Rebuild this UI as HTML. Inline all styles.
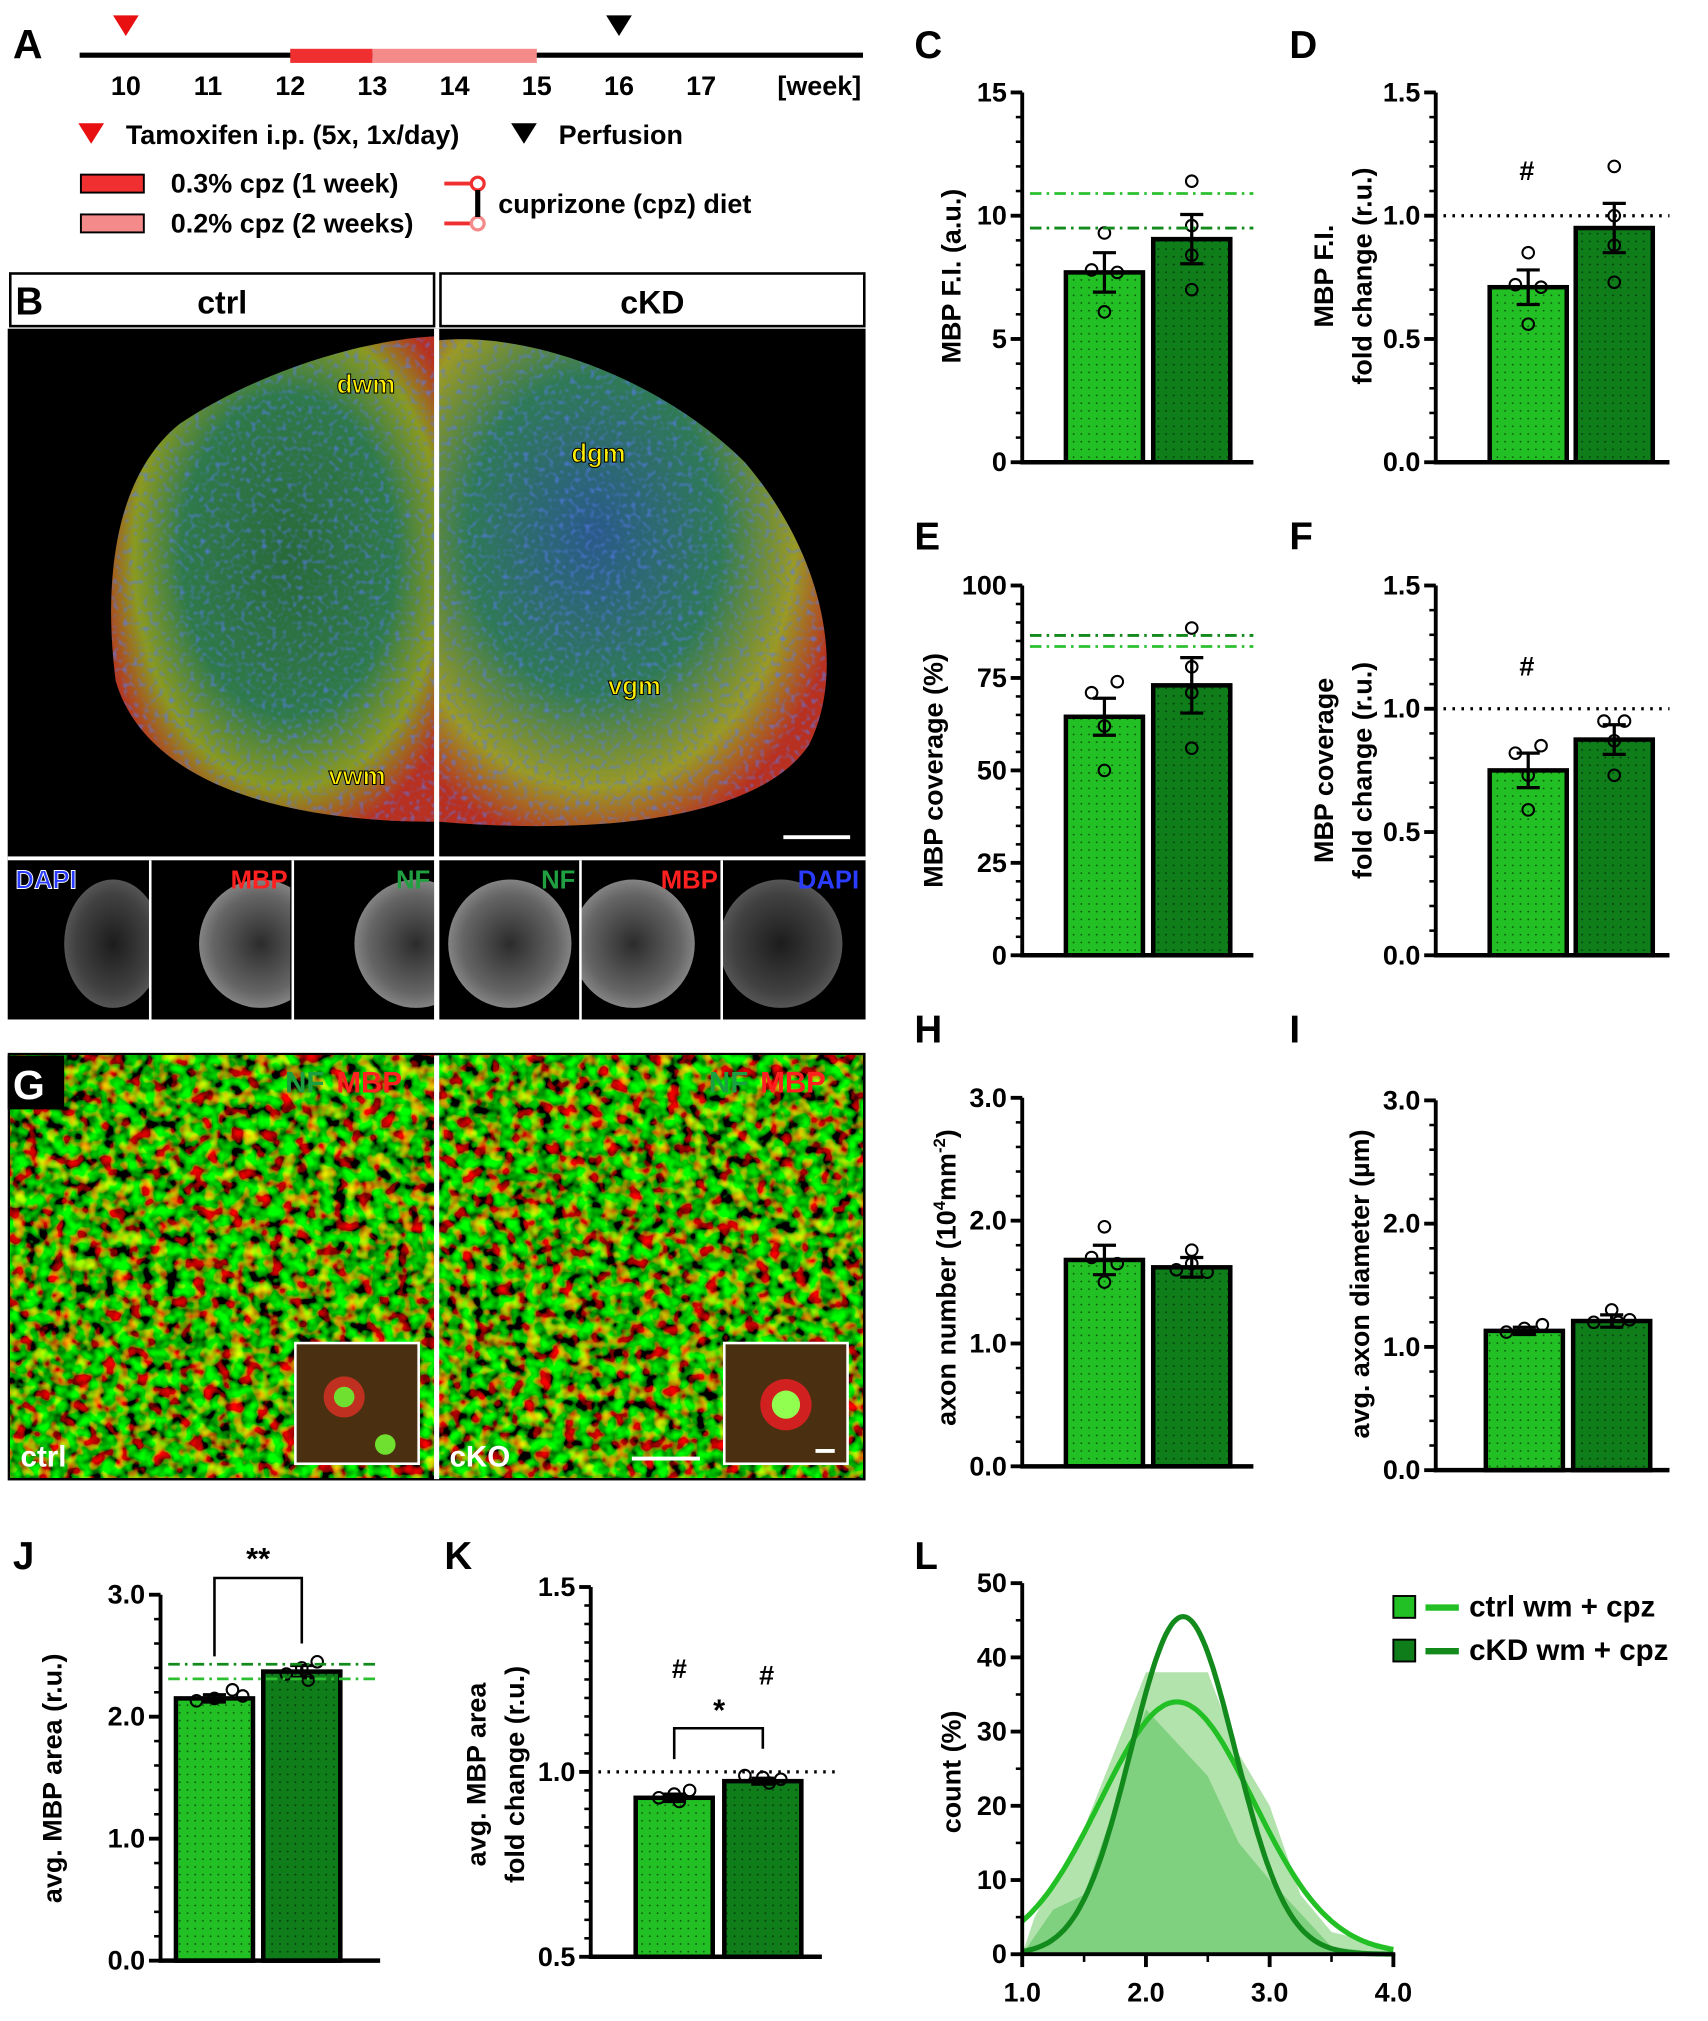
<!DOCTYPE html>
<html><head><meta charset="utf-8"><style>
html,body{margin:0;padding:0;background:#fff}
svg{display:block}
text{font-family:"Liberation Sans",Arial,sans-serif;font-weight:bold}
</style></head><body>
<svg id="s" xmlns="http://www.w3.org/2000/svg" width="1708" height="2021" viewBox="0 0 1330 1574" preserveAspectRatio="none">
<defs>
<pattern id="dots" width="6" height="6" patternUnits="userSpaceOnUse"><circle cx="2" cy="2" r="0.7" fill="#000" opacity="0.55"/></pattern>
<radialGradient id="cordL" cx="0.55" cy="0.45" r="0.6"><stop offset="0" stop-color="#2a6a3a"/><stop offset="0.55" stop-color="#2f7a4a"/><stop offset="0.8" stop-color="#8a9a20"/><stop offset="1" stop-color="#b83020"/></radialGradient>
<radialGradient id="cordR" cx="0.4" cy="0.4" r="0.65"><stop offset="0" stop-color="#2a5a8a"/><stop offset="0.5" stop-color="#2f7a55"/><stop offset="0.8" stop-color="#9a9a25"/><stop offset="1" stop-color="#b83020"/></radialGradient>
<radialGradient id="gray" cx="0.5" cy="0.5" r="0.55"><stop offset="0" stop-color="#333"/><stop offset="0.7" stop-color="#777"/><stop offset="1" stop-color="#aaa"/></radialGradient>
<filter id="noise" x="0" y="0" width="100%" height="100%">
<feTurbulence type="fractalNoise" baseFrequency="0.1" numOctaves="2" seed="3" result="t"/>
<feColorMatrix in="t" type="matrix" values="2.6 -0.6 0 0 -0.95  -0.4 2.6 0 0 -0.75  0 0 0 0 0  0 0 0 0 1"/>
</filter>
<filter id="speck" x="0" y="0" width="100%" height="100%">
<feTurbulence type="fractalNoise" baseFrequency="0.25" numOctaves="1" seed="7" result="t"/>
<feColorMatrix in="t" type="matrix" values="0 0 0 0 0.1  0 0 0 0 0.2  0 0 0 0 0.9  3 0 0 0 -1.5"/>
</filter>
<clipPath id="cl"><path d="M338,262 C280,265 200,290 140,330 C90,370 80,450 90,530 C110,600 200,640 338,640 Z M342,265 C420,258 520,300 580,360 C640,430 660,520 630,580 C590,640 460,650 342,640 Z"/></clipPath>
</defs>
<g id="root"></g>
</svg>
<script>
const R=document.getElementById('root');let h='';
function t(x,y,s,sz,anc,extra){h+=`<text x="${x}" y="${y}" font-size="${sz||20}" text-anchor="${anc||'start'}" ${extra||''}>${s}</text>`;}
function L(x1,y1,x2,y2,w,c,da){h+=`<line x1="${x1}" y1="${y1}" x2="${x2}" y2="${y2}" stroke="${c||'#000'}" stroke-width="${w||3}" ${da?`stroke-dasharray="${da}"`:''}/>`;}
t(10,45,'A',32);
L(62,43,672,43,4);
h+=`<rect x="226" y="38" width="64" height="11" fill="#f03030"/><rect x="290" y="38" width="128" height="11" fill="#f58a8a"/>`;
[[98,10],[162,11],[226,12],[290,13],[354,14],[418,15],[482,16],[546,17]].forEach(a=>t(a[0],74,a[1],21,'middle'));
t(638,74,'[week]',21,'middle');
h+=`<polygon points="88,12 108,12 98,28" fill="#e81010"/><polygon points="472,12 492,12 482,28" fill="#000"/>`;
h+=`<polygon points="61,96 81,96 71,112" fill="#e81010"/><polygon points="398,96 418,96 408,112" fill="#000"/>`;
t(98,112,'Tamoxifen i.p. (5x, 1x/day)',21);t(435,112,'Perfusion',21);
h+=`<rect x="63" y="136" width="49" height="14" fill="#f03030" stroke="#000" stroke-width="1.5"/><rect x="63" y="167" width="49" height="14" fill="#f58a8a" stroke="#000" stroke-width="1.5"/>`;
t(133,150,'0.3% cpz (1 week)',21);t(133,181,'0.2% cpz (2 weeks)',21);
h+=`<path d="M346,143 H372 M346,174 H372" stroke="#f03030" stroke-width="3"/><circle cx="372" cy="143" r="5" fill="#fff" stroke="#f03030" stroke-width="2.5"/><circle cx="372" cy="174" r="5" fill="#fff" stroke="#f58a8a" stroke-width="2.5"/><line x1="372" y1="148" x2="372" y2="169" stroke="#000" stroke-width="4"/>`;
t(388,166,'cuprizone (cpz) diet',21);
h+=`<rect x="8" y="213" width="330" height="41" fill="#fff" stroke="#000" stroke-width="2"/><rect x="343" y="213" width="330" height="41" fill="#fff" stroke="#000" stroke-width="2"/>`;
t(12,245,'B',30);t(173,244,'ctrl',25,'middle');t(508,244,'cKD',25,'middle');
h+=`<rect x="6" y="256" width="668" height="538" fill="#000"/>`;
h+=`<path d="M338,262 C280,265 200,290 140,330 C90,370 80,450 90,530 C110,600 200,640 338,640 Z" fill="url(#cordL)"/>`;
h+=`<path d="M342,265 C420,258 520,300 580,360 C640,430 660,520 630,580 C590,640 460,650 342,640 Z" fill="url(#cordR)"/>`;
h+=`<g clip-path="url(#cl)"><rect x="6" y="256" width="668" height="410" filter="url(#speck)" opacity="0.7"/></g>`;
h+=`<rect x="338" y="256" width="4" height="538" fill="#fff"/><rect x="6" y="667" width="668" height="3" fill="#fff"/>`;
h+=`<path d="M610,652 H662" stroke="#fff" stroke-width="3"/>`;
const yl='fill="#ffee00" stroke="#000" stroke-width="0.8"';
t(285,306,'dwm',20,'middle',yl);t(466,360,'dgm',20,'middle',yl);t(494,541,'vgm',20,'middle',yl);t(278,611,'vwm',20,'middle',yl);
const sp=[[8,'DAPI','#2a3cff','l'],[118,'MBP','#ff2020','r'],[229,'NF','#20a040','r'],[342,'NF','#20a040','r'],[453,'MBP','#ff2020','r'],[563,'DAPI','#2a3cff','r']];
const off=[25,30,40,0,-15,-10];
sp.forEach((p,i)=>{const x=p[0];h+=`<clipPath id="c${i}"><rect x="${x}" y="670" width="${i==2?109:108}" height="124"/></clipPath>`;
h+=`<g clip-path="url(#c${i})"><ellipse cx="${x+55+off[i]}" cy="735" rx="${i==0?38:48}" ry="50" fill="url(#gray)" opacity="${i==0||i==5?0.55:0.85}"/></g>`;
if(i>0)h+=`<rect x="${x-2}" y="670" width="2" height="124" fill="#fff"/>`;
if(p[3]=='l')t(x+4,692,p[1],20,'start',`fill="${p[2]}" stroke="#fff" stroke-width="0.7"`);else t(x+106,692,p[1],20,'end',`fill="${p[2]}"`);});
h+=`<rect x="6" y="820" width="668" height="333" fill="#000"/><rect x="8" y="822" width="664" height="329" filter="url(#noise)"/><rect x="338" y="822" width="4" height="330" fill="#fff"/>`;
h+=`<rect x="6" y="822" width="44" height="42" fill="#000"/>`;t(10,856,'G',32,'start','fill="#fff"');
t(222,851,'NF',23,'start','fill="#1aa040"');t(262,851,'MBP',23,'start','fill="#ff2020"');
t(552,851,'NF',23,'start','fill="#1aa040"');t(592,851,'MBP',23,'start','fill="#ff2020"');
h+=`<rect x="230" y="1046" width="96" height="94" fill="#4a3010" stroke="#fff" stroke-width="2"/><circle cx="268" cy="1088" r="16" fill="#c03020"/><circle cx="268" cy="1088" r="8" fill="#70e030"/><circle cx="300" cy="1125" r="8" fill="#70e030"/>`;
h+=`<rect x="564" y="1046" width="96" height="94" fill="#4a3010" stroke="#fff" stroke-width="2"/><circle cx="612" cy="1094" r="20" fill="#d02020"/><circle cx="612" cy="1094" r="11" fill="#90ff50"/>`;
t(16,1142,'ctrl',23,'start','fill="#fff"');t(350,1142,'cKO',23,'start','fill="#fff"');
L(492,1136,545,1136,3,'#fff');L(635,1130,650,1130,3,'#fff');
const C1='#22c024',C2='#0f7d1a';
function chart(o){const {ax,y0,y1,min,max,labs,b1,b2,pts1,pts2,e1,e2,letter,lx,ly,ylab,minor}=o;
 const Y=v=>y0-(v-min)/(max-min)*(y0-y1);
 t(lx,ly,letter,30);
 [[b1,C1,pts1,e1],[b2,C2,pts2,e2]].forEach(b=>{const [x,v]=b[0];const yy=Y(v);
  h+=`<rect x="${x}" y="${yy}" width="60" height="${y0-yy}" fill="${b[1]}"/><rect x="${x}" y="${yy}" width="60" height="${y0-yy}" fill="url(#dots)" stroke="#000" stroke-width="3.5"/>`;
  const cx=x+30;L(cx,Y(v+b[3]),cx,Y(v-b[3]),2.5);L(cx-9,Y(v+b[3]),cx+9,Y(v+b[3]),2.5);L(cx-9,Y(v-b[3]),cx+9,Y(v-b[3]),2.5);
  b[2].forEach(p=>h+=`<circle cx="${cx+p[0]}" cy="${Y(p[1])}" r="4.5" fill="none" stroke="#000" stroke-width="1.6"/>`);});
 L(ax,y0+1.5,ax,y1,3);L(ax-1.5,y0,o.xe,y0,3.5);
 labs.forEach(v=>{L(ax-9,Y(v),ax,Y(v),3);t(ax-12,Y(v)+7,o.fmt?v.toFixed(1):v,21,'end');});
 if(minor)for(let v=min;v<=max+1e-9;v+=minor)L(ax-5,Y(v),ax,Y(v),2);
 ylab.forEach(l=>t(0,0,l[0],21,'middle',`transform="translate(${l[1]},${l[2]}) rotate(-90)"`));
 if(o.extra)o.extra(Y);
}
const dd=(Y,x1,x2,v,c)=>L(x1,Y(v),x2,Y(v),2.2,c,'9 4 2 4');
const dot=(Y,x1,x2,v)=>L(x1,Y(v),x2,Y(v),2.5,'#000','2 5');
chart({ax:796,y0:360,y1:72,min:0,max:15,labs:[0,5,10,15],minor:1,b1:[830,7.7],b2:[898,9.05],e1:0.8,e2:1.0,pts1:[[0,9.3],[-10,7.8],[0,6.1],[10,7.7]],pts2:[[0,11.4],[0,9.6],[0,7.0],[0,8.4]],letter:'C',lx:712,ly:45,xe:976,ylab:[['MBP F.I. (a.u.)',748,215]],extra:Y=>{dd(Y,802,976,10.9,'#2cc030');dd(Y,802,976,9.5,'#138a1c');}});
chart({ax:1118,y0:360,y1:72,min:0,max:1.5,labs:[0,0.5,1,1.5],fmt:1,minor:0.1,b1:[1160,0.71],b2:[1227,0.95],e1:0.07,e2:0.1,pts1:[[0,0.85],[-10,0.72],[0,0.56],[10,0.71]],pts2:[[0,1.2],[0,1.0],[0,0.73],[0,0.88]],letter:'D',lx:1004,ly:45,xe:1300,ylab:[['MBP F.I.',1038,215],['fold change (r.u.)',1068,215]],extra:Y=>{dot(Y,1124,1300,1.0);t(1189,140,'#',21,'middle');}});
chart({ax:796,y0:744,y1:456,min:0,max:100,labs:[0,25,50,75,100],minor:5,b1:[830,64.5],b2:[898,73],e1:5,e2:7.5,pts1:[[-10,71],[10,74],[0,50],[0,62]],pts2:[[0,88.5],[0,78],[0,56],[0,71]],letter:'E',lx:712,ly:428,xe:976,ylab:[['MBP coverage (%)',734,600]],extra:Y=>{dd(Y,802,976,86.5,'#138a1c');dd(Y,802,976,83.5,'#2cc030');}});
chart({ax:1118,y0:744,y1:456,min:0,max:1.5,labs:[0,0.5,1,1.5],fmt:1,minor:0.1,b1:[1160,0.75],b2:[1227,0.875],e1:0.07,e2:0.06,pts1:[[-10,0.82],[10,0.85],[0,0.59],[0,0.73]],pts2:[[-8,0.95],[8,0.95],[0,0.73],[0,0.87]],letter:'F',lx:1004,ly:428,xe:1300,ylab:[['MBP coverage',1038,600],['fold change (r.u.)',1068,600]],extra:Y=>{dot(Y,1124,1300,1.0);t(1189,526,'#',21,'middle');}});
chart({ax:796,y0:1142,y1:855,min:0,max:3,labs:[0,1,2,3],fmt:1,minor:0.2,b1:[830,1.68],b2:[898,1.62],e1:0.12,e2:0.08,pts1:[[0,1.95],[-10,1.7],[0,1.5],[10,1.65]],pts2:[[0,1.76],[-12,1.6],[12,1.58],[0,1.65]],letter:'H',lx:712,ly:812,xe:976,ylab:[['axon number (10<tspan font-size="13" dy="-8">4</tspan><tspan dy="8">mm</tspan><tspan font-size="13" dy="-8">-2</tspan><tspan dy="8">)</tspan>',744,995]]});
chart({ax:1118,y0:1145,y1:857,min:0,max:3,labs:[0,1,2,3],fmt:1,minor:0.2,b1:[1157,1.13],b2:[1225,1.21],e1:0.03,e2:0.05,pts1:[[-14,1.12],[0,1.15],[14,1.18]],pts2:[[-14,1.2],[0,1.3],[14,1.22],[5,1.2]],letter:'I',lx:1004,ly:812,xe:1300,ylab:[['avg. axon diameter (µm)',1066,1000]]});
chart({ax:125,y0:1527,y1:1242,min:0,max:3,labs:[0,1,2,3],fmt:1,minor:0.2,b1:[137,2.15],b2:[205,2.37],e1:0.03,e2:0.05,pts1:[[-14,2.13],[0,2.15],[14,2.22],[22,2.17]],pts2:[[-12,2.35],[0,2.4],[12,2.45],[5,2.3]],letter:'J',lx:10,ly:1222,xe:296,ylab:[['avg. MBP area (r.u.)',48,1385]],extra:Y=>{dd(Y,131,296,2.43,'#138a1c');dd(Y,131,296,2.31,'#2cc030');h+=`<path d="M167,1290 V1229 H235 V1280" fill="none" stroke="#000" stroke-width="2"/>`;t(201,1222,'**',24,'middle');}});
chart({ax:460,y0:1524,y1:1236,min:0.5,max:1.5,labs:[0.5,1,1.5],fmt:1,minor:0.05,b1:[495,0.93],b2:[564,0.975],e1:0.01,e2:0.008,pts1:[[-12,0.93],[0,0.94],[12,0.95],[4,0.92]],pts2:[[-14,0.99],[0,0.985],[14,0.98],[5,0.97]],letter:'K',lx:346,ly:1222,xe:640,ylab:[['avg. MBP area',378,1382],['fold change (r.u.)',408,1382]],extra:Y=>{dot(Y,466,652,1.0);h+=`<path d="M525,1370 V1346 H594 V1362" fill="none" stroke="#000" stroke-width="2"/>`;t(560,1340,'*',24,'middle');t(529,1307,'#',21,'middle');t(597,1312,'#',21,'middle');}});
(function(){const ax=796,y0=1522,y1=1233,X=v=>ax+(v-1)/3*289,Y=v=>y0-v/50*(y0-y1);
 t(712,1222,'L',30);
 const hl=[[1,0],[1.1,5],[1.5,17],[2,38],[2.5,38],[2.75,27],[3,20],[3.25,8],[3.5,3],[4,1],[4,0]];
 const hd=[[1,0],[1.25,6],[1.5,8],[1.75,20],[2,33],[2.5,24],[2.75,15],[3,10],[3.5,1],[4,0]];
 h+=`<polygon points="${hl.map(p=>X(p[0])+','+Y(p[1])).join(' ')}" fill="#b2e3ad"/>`;
 h+=`<polygon points="${hd.map(p=>X(p[0])+','+Y(p[1])).join(' ')}" fill="#7fd07f"/>`;
 const g=(m,s,a)=>{let p=[];for(let v=1;v<=4.001;v+=0.02)p.push(X(v).toFixed(1)+','+Y(a*Math.exp(-((v-m)**2)/(2*s*s))).toFixed(1));return p.join(' ');};
 h+=`<polyline points="${g(2.25,0.62,34)}" fill="none" stroke="#22c024" stroke-width="4"/>`;
 h+=`<polyline points="${g(2.3,0.42,45.5)}" fill="none" stroke="#138a1c" stroke-width="4"/>`;
 L(ax,y0+1.5,ax,y1,3);L(ax-1.5,y0,X(4)+1.5,y0,3);
 [0,10,20,30,40,50].forEach(v=>{L(ax-9,Y(v),ax,Y(v),3);t(ax-12,Y(v)+7,v,21,'end');});
 for(let v=5;v<50;v+=10)L(ax-5,Y(v),ax,Y(v),2);
 [1,2,3,4].forEach(v=>{L(X(v),y0,X(v),y0+10,3);t(X(v),y0+37,v.toFixed(1),21,'middle');});
 [1.5,2.5,3.5].forEach(v=>L(X(v),y0,X(v),y0+6,2));
 t(0,0,'count (%)',21,'middle','transform="translate(748,1380) rotate(-90)"');
 h+=`<rect x="1085" y="1243" width="17" height="17" fill="#22c024" stroke="#000" stroke-width="1.5"/><rect x="1085" y="1277" width="17" height="17" fill="#0f7d1a" stroke="#000" stroke-width="1.5"/>`;
 L(1110,1252,1136,1252,5,'#22c024');L(1110,1286,1136,1286,5,'#138a1c');
 t(1144,1259,'ctrl wm + cpz',23);t(1144,1293,'cKD wm + cpz',23);
})();
R.innerHTML=h;
</script>
</body></html>
